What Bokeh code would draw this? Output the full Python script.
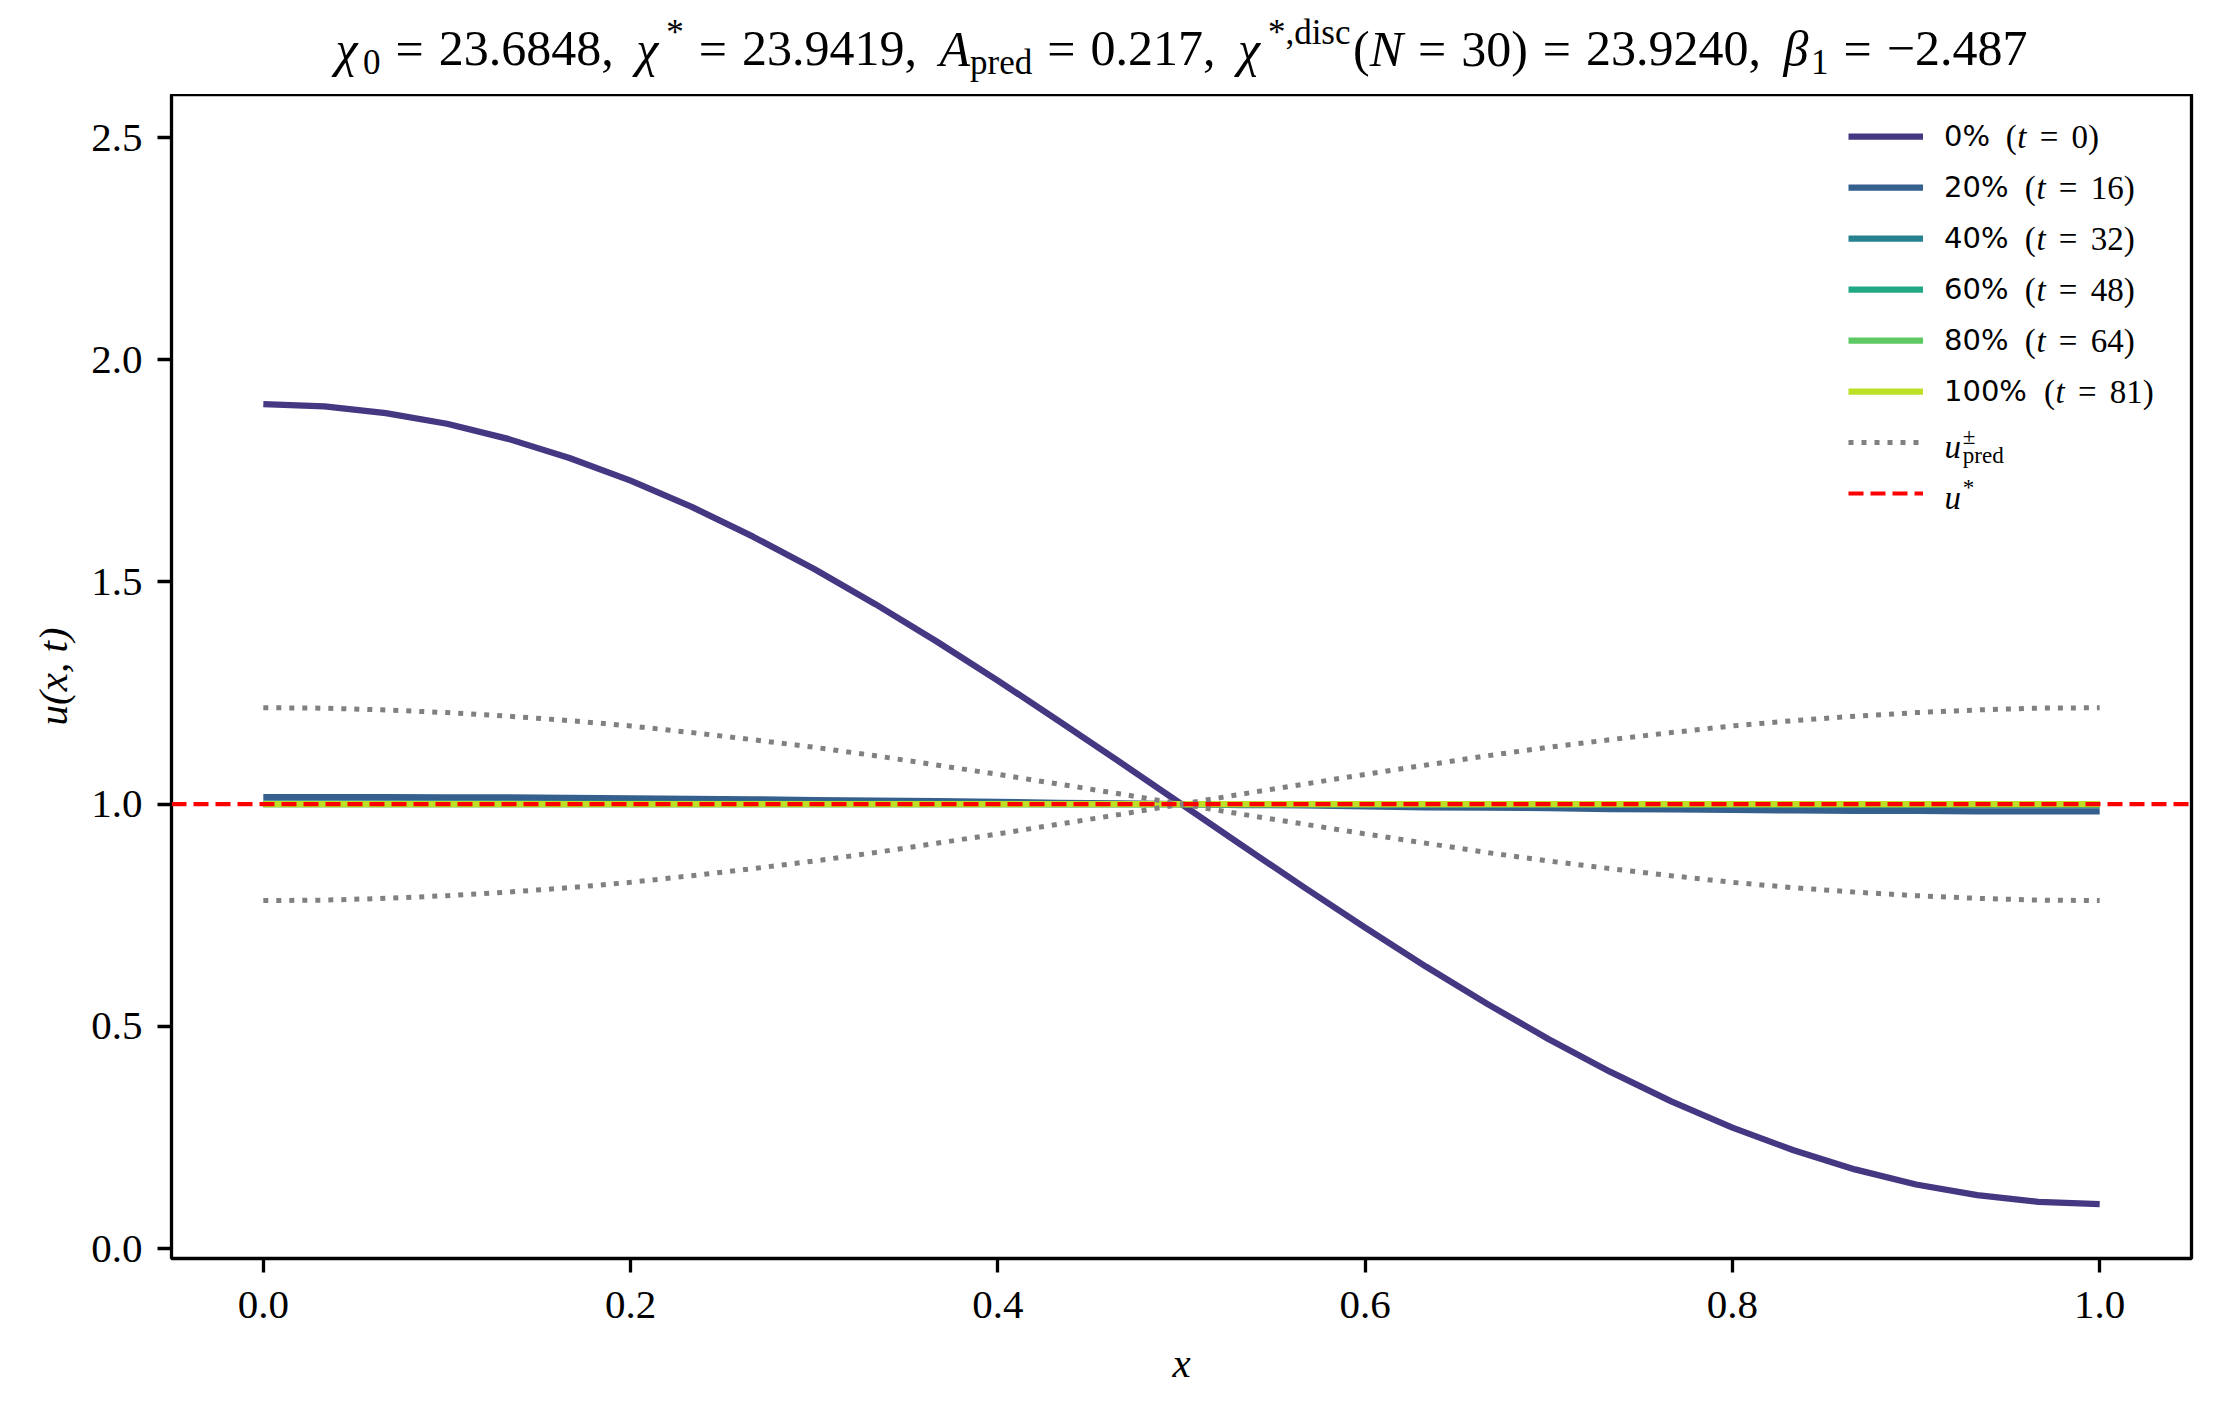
import numpy as np
from bokeh.plotting import figure
from bokeh.layouts import column
from bokeh.models import Range1d, FixedTicker, PrintfTickFormatter, Label, Legend, LegendItem
from bokeh.embed import file_html
from bokeh.resources import INLINE

# grid N = 30
x_grid = [0.0, 0.0333, 0.0667, 0.1, 0.1333, 0.1667, 0.2, 0.2333, 0.2667, 0.3, 0.3333,
          0.3667, 0.4, 0.4333, 0.4667, 0.5, 0.5333, 0.5667, 0.6, 0.6333, 0.6667,
          0.7, 0.7333, 0.7667, 0.8, 0.8333, 0.8667, 0.9, 0.9333, 0.9667, 1.0]

# snapshots u(x, t)
u_t0 = [1.900, 1.895, 1.880, 1.856, 1.822, 1.779, 1.728, 1.669, 1.602, 1.529, 1.450,
        1.366, 1.278, 1.187, 1.094, 1.000, 0.906, 0.813, 0.722, 0.634, 0.550,
        0.471, 0.398, 0.331, 0.272, 0.221, 0.178, 0.144, 0.120, 0.105, 0.100]
u_t16 = [1.016, 1.016, 1.016, 1.015, 1.015, 1.014, 1.013, 1.012, 1.011, 1.009, 1.008,
         1.007, 1.005, 1.003, 1.002, 1.000, 0.998, 0.997, 0.995, 0.993, 0.992,
         0.991, 0.989, 0.988, 0.987, 0.986, 0.985, 0.985, 0.984, 0.984, 0.984]
u_t32 = [1.002, 1.002, 1.002, 1.002, 1.002, 1.002, 1.002, 1.001, 1.001, 1.001, 1.001,
         1.001, 1.001, 1.000, 1.000, 1.000, 1.000, 1.000, 0.999, 0.999, 0.999,
         0.999, 0.999, 0.999, 0.998, 0.998, 0.998, 0.998, 0.998, 0.998, 0.998]
u_t48 = [1.000, 1.000, 1.000, 1.000, 1.000, 1.000, 1.000, 1.000, 1.000, 1.000, 1.000,
         1.000, 1.000, 1.000, 1.000, 1.000, 1.000, 1.000, 1.000, 1.000, 1.000,
         1.000, 1.000, 1.000, 1.000, 1.000, 1.000, 1.000, 1.000, 1.000, 1.000]
u_t64 = [1.000, 1.000, 1.000, 1.000, 1.000, 1.000, 1.000, 1.000, 1.000, 1.000, 1.000,
         1.000, 1.000, 1.000, 1.000, 1.000, 1.000, 1.000, 1.000, 1.000, 1.000,
         1.000, 1.000, 1.000, 1.000, 1.000, 1.000, 1.000, 1.000, 1.000, 1.000]
u_t81 = [1.000, 1.000, 1.000, 1.000, 1.000, 1.000, 1.000, 1.000, 1.000, 1.000, 1.000,
         1.000, 1.000, 1.000, 1.000, 1.000, 1.000, 1.000, 1.000, 1.000, 1.000,
         1.000, 1.000, 1.000, 1.000, 1.000, 1.000, 1.000, 1.000, 1.000, 1.000]

# predicted envelope u_pred^+/-
u_pred_hi = [1.217, 1.216, 1.212, 1.206, 1.198, 1.188, 1.176, 1.161, 1.145, 1.128, 1.109,
             1.088, 1.067, 1.045, 1.023, 1.000, 0.977, 0.955, 0.933, 0.912, 0.891,
             0.872, 0.855, 0.839, 0.824, 0.812, 0.802, 0.794, 0.788, 0.784, 0.783]
u_pred_lo = [0.783, 0.784, 0.788, 0.794, 0.802, 0.812, 0.824, 0.839, 0.855, 0.872, 0.891,
             0.912, 0.933, 0.955, 0.977, 1.000, 1.023, 1.045, 1.067, 1.088, 1.109,
             1.128, 1.145, 1.161, 1.176, 1.188, 1.198, 1.206, 1.212, 1.216, 1.217]
u_star = 1.0

pct_labels = ["0%", "20%", "40%", "60%", "80%", "100%"]
t_labels = ["0", "16", "32", "48", "64", "81"]
colors = ["#453781", "#355f8d", "#26828e", "#22a884", "#5ec962", "#bddf26"]

x_ticks = [0.0, 0.2, 0.4, 0.6, 0.8, 1.0]
y_ticks = [0.0, 0.5, 1.0, 1.5, 2.0, 2.5]
x_lo, x_hi = -0.05, 1.05
y_lo, y_hi = -0.0225, 2.597

SERIF = "Liberation Serif"
SANS = "DejaVu Sans"
W, TOP_H, H = 2212, 94, 1401
B_LEFT, B_RIGHT, B_BOTTOM = 171, 21, 143

# title strip (its own little figure so the text is not clipped by the frame)
top = figure(width=W, height=TOP_H, output_backend="svg", toolbar_location=None, title=None,
             x_range=Range1d(B_LEFT, W - B_RIGHT), y_range=Range1d(0, TOP_H),
             x_axis_location=None, y_axis_location=None,
             min_border_left=B_LEFT, min_border_right=B_RIGHT, min_border_top=0, min_border_bottom=0)
top.grid.visible = False
top.outline_line_color = None
top.background_fill_color = "white"
top.border_fill_color = "white"

p = figure(width=W, height=H - TOP_H, output_backend="svg", toolbar_location=None, title=None,
           x_range=Range1d(x_lo, x_hi), y_range=Range1d(y_lo, y_hi),
           min_border_left=B_LEFT, min_border_right=B_RIGHT, min_border_top=0,
           min_border_bottom=B_BOTTOM)
p.background_fill_color = "white"
p.border_fill_color = "white"
p.grid.visible = False
p.outline_line_color = "black"
p.outline_line_width = 3.3

for ax in (p.xaxis[0], p.yaxis[0]):
    ax.axis_line_color = None
    ax.major_tick_out = 14
    ax.major_tick_in = 0
    ax.major_tick_line_width = 3.3
    ax.minor_tick_line_color = None
    ax.major_label_text_font = SERIF
    ax.major_label_text_font_size = "41px"
    ax.major_label_text_color = "black"
    ax.axis_label_text_font = SERIF
    ax.axis_label_text_font_style = "italic"
    ax.axis_label_text_font_size = "41px"
    ax.axis_label_text_color = "black"
    ax.formatter = PrintfTickFormatter(format="%.1f")

p.xaxis.ticker = FixedTicker(ticks=x_ticks)
p.yaxis.ticker = FixedTicker(ticks=y_ticks)
p.xaxis.axis_label = "x"
p.yaxis.axis_label = "u(x, t)"
p.xaxis.major_label_standoff = 19
p.yaxis.major_label_standoff = 15
p.xaxis.axis_label_standoff = 19
p.yaxis.axis_label_standoff = 12

series = [u_t0, u_t16, u_t32, u_t48, u_t64, u_t81]
items = []
for ys, c, lab in zip(series, colors, pct_labels):
    r = p.line(x_grid, ys, line_color=c, line_width=6.25, line_join="round")
    items.append(LegendItem(label=lab, renderers=[r]))

r_hi = p.line(x_grid, u_pred_hi, line_color="#808080", line_width=5, line_dash="5 8")
p.line(x_grid, u_pred_lo, line_color="#808080", line_width=5, line_dash="5 8")
items.append(LegendItem(label=" ", renderers=[r_hi]))
r_star = p.line([x_lo, x_hi], [u_star, u_star], line_color="#ff0000", line_width=4.2, line_dash="15 7")
items.append(LegendItem(label=" ", renderers=[r_star]))

F = 29    # legend sans text
FM = 33   # legend math text
LEG_X, LEG_Y = 1677, 745
leg = Legend(items=items, location=(LEG_X, LEG_Y), glyph_width=75, glyph_height=40,
             label_height=40, label_width=10, spacing=11, label_standoff=21,
             padding=0, margin=0, border_line_color=None, background_fill_alpha=0,
             label_text_font=SANS, label_text_font_size=f"{F}px", label_text_color="black")
p.add_layout(leg)

# glyph advance widths (em) used to lay out the math-like texts
W_RM = {" ": .25, "(": .333, ")": .333, "*": .5, ",": .25, ".": .25, "=": .564, "\u2212": .564,
        "\u00b1": .549, "c": .444, "d": .5, "e": .444, "i": .278, "p": .5, "r": .333, "s": .389}
W_IT = {"A": .611, "N": .667, "t": .278, "u": .5, "x": .444, "\u03c7": .55, "\u03b2": .55}
W_SANS = {"%": .95, " ": .318}


def width(txt, table, size, default=0.5):
    return sum(table.get(ch, default) for ch in txt) * size


def put_math(fig, pieces, x0, ymid, size, units="screen"):
    # pieces: (text, kind, gap before in em); ymid is the vertical middle of the main text
    x = x0
    for txt, kind, gap in pieces:
        x += gap * size
        fs, dy, style, tbl = size, 0.0, "normal", W_RM
        if kind == "it":
            style, tbl = "italic", W_IT
        elif kind == "sub":
            fs, dy = size * 0.7, -0.27 * size
        elif kind == "sup":
            fs, dy = size * 0.7, 0.32 * size
        fig.add_layout(Label(x=x, y=ymid + dy, x_units=units, y_units=units, text=txt,
                             text_font=SERIF, text_font_style=style, text_font_size=f"{fs:.1f}px",
                             text_color="black", text_baseline="middle", text_align="left"))
        x += width(txt, tbl, fs)
    return x


def math_width(pieces, size):
    tot = 0.0
    for txt, kind, gap in pieces:
        tot += gap * size
        if kind == "it":
            tot += width(txt, W_IT, size)
        elif kind in ("sub", "sup"):
            tot += width(txt, W_RM, size * 0.7)
        else:
            tot += width(txt, W_RM, size)
    return tot


title_pieces = [
    ("\u03c7", "it", 0), ("0", "sub", 0.0), ("=", "rm", 0.3), ("23.6848,", "rm", 0.3),
    ("\u03c7", "it", 0.45), ("*", "sup", 0.05), ("=", "rm", 0.3), ("23.9419,", "rm", 0.3),
    ("A", "it", 0.45), ("pred", "sub", 0.0), ("=", "rm", 0.3), ("0.217,", "rm", 0.3),
    ("\u03c7", "it", 0.45), ("*,disc", "sup", 0.05), ("(", "rm", 0.05), ("N", "it", 0.0),
    ("=", "rm", 0.3), ("30)", "rm", 0.3), ("=", "rm", 0.3), ("23.9240,", "rm", 0.3),
    ("\u03b2", "it", 0.45), ("1", "sub", 0.0), ("=", "rm", 0.3), ("\u22122.487", "rm", 0.3),
]
T = 50
title_cx = B_LEFT + (W - B_LEFT - B_RIGHT) / 2
put_math(top, title_pieces, title_cx - math_width(title_pieces, T) / 2, TOP_H - 48, T, units="data")

# math parts of the legend labels (row centres measured from the frame bottom)
row0 = LEG_Y + 8 * 40 + 7 * 11 - 20
pitch = 51
text_x = LEG_X + 75 + 21
for i, (pl, tl) in enumerate(zip(pct_labels, t_labels)):
    yc = row0 - i * pitch
    x0 = text_x + width(pl, W_SANS, F, default=0.66) + 0.5 * F
    put_math(p, [("(", "rm", 0), ("t", "it", 0.02), ("=", "rm", 0.4), (tl + ")", "rm", 0.4)],
             x0, yc, FM)
yc = row0 - 6 * pitch
put_math(p, [("u", "it", 0), ("\u00b1", "sup", 0.05)], text_x, yc - 4, FM)
put_math(p, [("pred", "sub", 0.55)], text_x, yc - 4, FM)
yc = row0 - 7 * pitch
put_math(p, [("u", "it", 0), ("*", "sup", 0.05)], text_x, yc - 4, FM)

open("out.html", "w").write(file_html(column(top, p), INLINE))
